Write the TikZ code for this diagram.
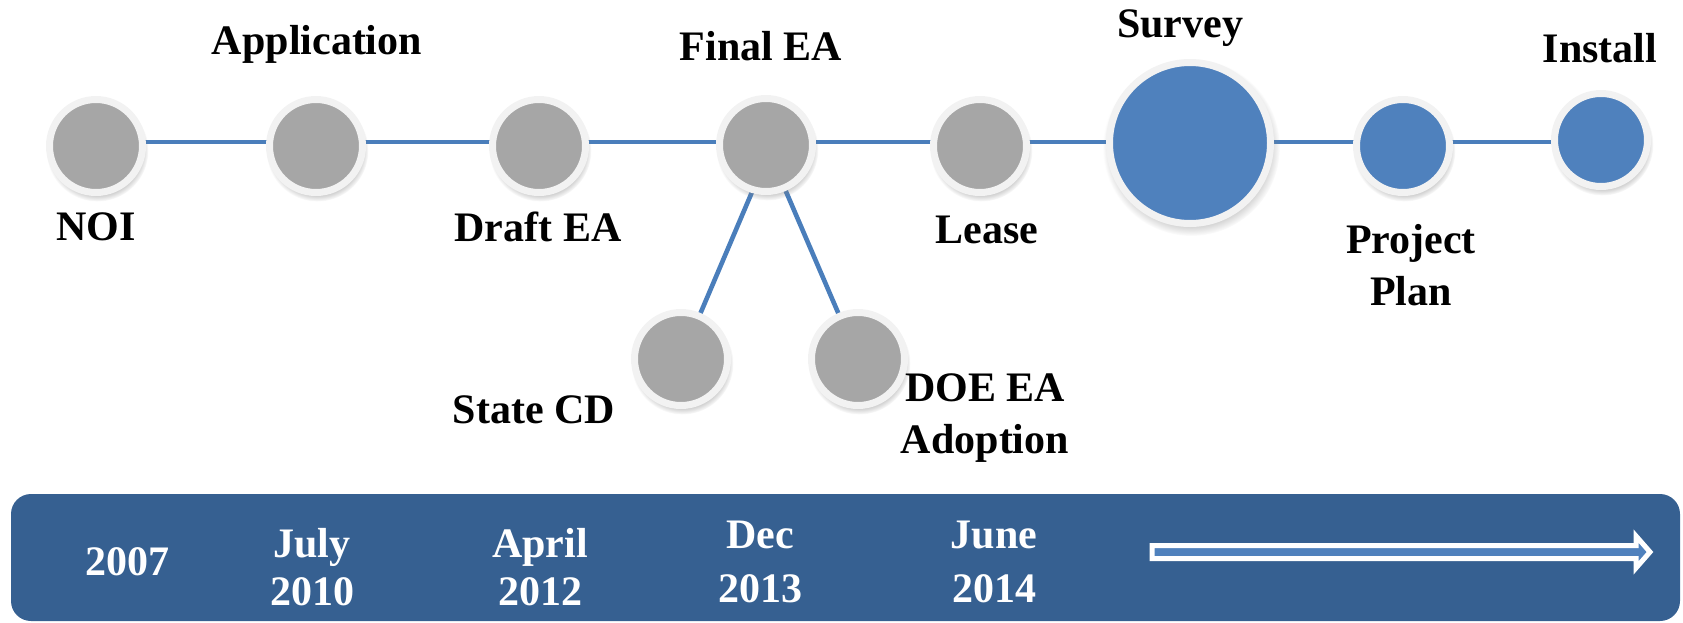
\documentclass[tikz,border=0pt]{standalone}
\usepackage{fontspec}
\setmainfont{Liberation Serif}
\usetikzlibrary{shadows,backgrounds}
\definecolor{milegray}{HTML}{A6A6A6}
\definecolor{mileblue}{HTML}{4F81BD}
\definecolor{rimwhite}{HTML}{F2F2F2}
\definecolor{barblue}{RGB}{54,96,145}
\definecolor{linkblue}{HTML}{4A7EBB}
\tikzset{
  event/.style={circle, draw=rimwhite, line width=3.5pt, inner sep=0pt, minimum size=46.5pt,
    circular drop shadow={shadow scale=1.1, shadow xshift=0.6pt, shadow yshift=-2pt, opacity=0.45}},
  done/.style={event, fill=milegray},
  todo/.style={event, fill=mileblue},
  link/.style={draw=linkblue, line width=2.3pt},
  lbl/.style={font=\bfseries\fontsize{21}{26}\selectfont, align=center, inner sep=0pt, anchor=base},
  date/.style={lbl, text=white, font=\bfseries\fontsize{21}{24}\selectfont}
}
\begin{document}
\begin{tikzpicture}[x=0.5pt, y=-0.5pt]
	\useasboundingbox (0,0) rectangle (1683,622);
	% milestones
	\node[done] (noi) at (96,146) {};
	\node[done] (app) at (316,146) {};
	\node[done] (dft) at (539,146) {};
	\node[done] (fea) at (766,145) {};
	\node[done] (lse) at (980,146) {};
	\node[todo, minimum size=80.5pt] (svy) at (1190,143) {};
	\node[todo] (prj) at (1403,146) {};
	\node[todo] (ins) at (1601,140) {};
	\node[done] (scd) at (681,359) {};
	\node[done] (doe) at (858,359) {};
	\begin{scope}[on background layer]
		\draw[link] ([yshift=2pt]noi.center) -- ([yshift=2pt]noi.center -| ins.center);
		\draw[link] ([xshift=3pt]fea.center) -- (scd.center);
		\draw[link] (fea.center) -- (doe.center);
	\end{scope}
	% labels
	\node[lbl] (tnoi) at (96,240) {NOI};
	\node[lbl] (tapp) at (317,54) {Application};
	\node[lbl] (tdft) at (538,241) {Draft EA};
	\node[lbl] (tfea) at (761,60) {Final EA};
	\node[lbl] (tlse) at (987,243) {Lease};
	\node[lbl] (tsvy) at (1180,37) {Survey};
	\node[lbl] (tprj) at (1411,305) {Project\\Plan};
	\node[lbl] (tins) at (1600,62) {Install};
	\node[lbl] (tscd) at (534,423) {State CD};
	\node[lbl] (tdoe) at (985,453) {DOE EA\\Adoption};
	% time bar
	\fill[barblue, rounded corners=10pt] (11,494) rectangle (1680,621);
	\node[date] (d07) at (127,575) {2007};
	\node[date] (d10) at (312,605) {July\\2010};
	\node[date] (d12) at (540,605) {April\\2012};
	\node[date] (d13) at (760,602) {Dec\\[3pt]2013};
	\node[date] (d14) at (994,602) {June\\[3pt]2014};
	\draw[white, line width=2.5pt, fill=mileblue] (1152,545.5) -- (1636,545.5) -- (1636,536) -- (1650,552)
		-- (1636,568) -- (1636,558.5) -- (1152,558.5) -- cycle;
\end{tikzpicture}
\end{document}
